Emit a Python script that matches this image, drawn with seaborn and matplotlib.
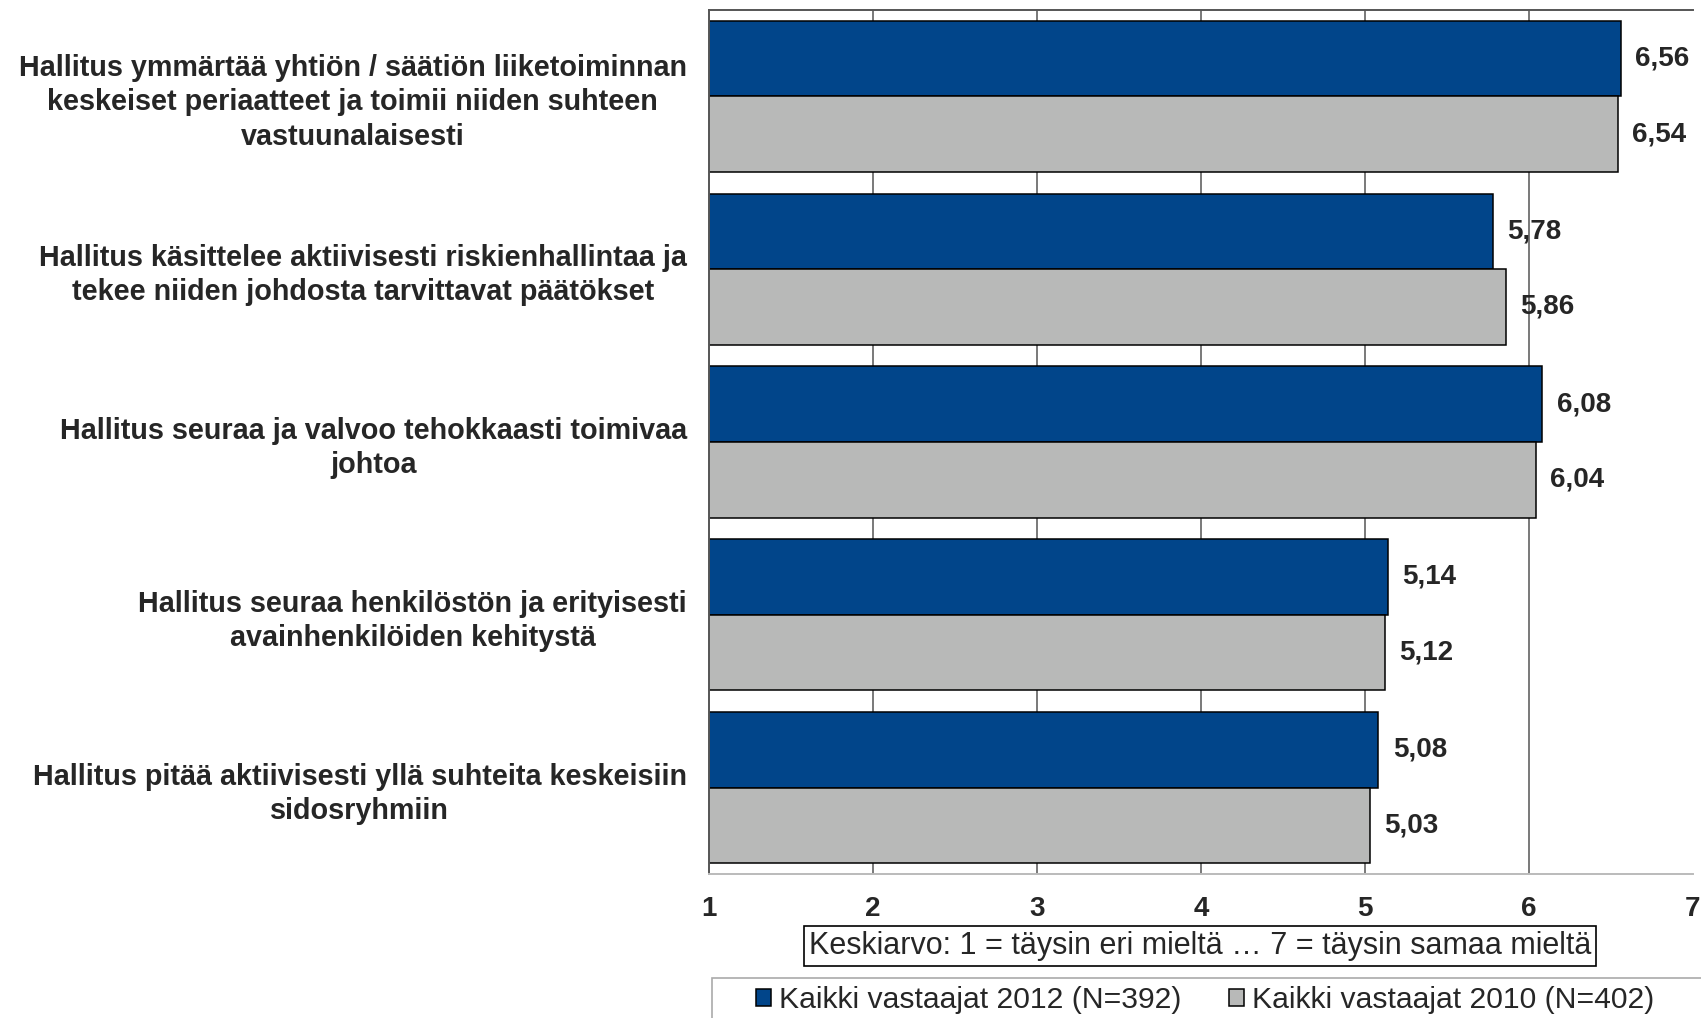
import pandas as pd
import matplotlib.pyplot as plt
import seaborn as sns
from matplotlib.patches import Rectangle

# =====================================
# DATA
# =====================================

statements = [
    "Hallitus ymmärtää yhtiön / säätiön liiketoiminnan\nkeskeiset periaatteet ja toimii niiden suhteen\nvastuunalaisesti",
    "Hallitus käsittelee aktiivisesti riskienhallintaa ja\ntekee niiden johdosta tarvittavat päätökset",
    "Hallitus seuraa ja valvoo tehokkaasti toimivaa\njohtoa",
    "Hallitus seuraa henkilöstön ja erityisesti\navainhenkilöiden kehitystä",
    "Hallitus pitää aktiivisesti yllä suhteita keskeisiin\nsidosryhmiin",
]

series_names = [
    "Kaikki vastaajat 2012 (N=392)",
    "Kaikki vastaajat 2010 (N=402)",
]

values_2012 = [6.56, 5.78, 6.08, 5.14, 5.08]
values_2010 = [6.54, 5.86, 6.04, 5.12, 5.03]

x_ticks = [1, 2, 3, 4, 5, 6, 7]

x_title = "Keskiarvo: 1 = täysin eri mieltä … 7 = täysin samaa mieltä"

colors = ["#01458A", "#B8B9B8"]

df = pd.DataFrame({
    "Väite": statements * 2,
    "Keskiarvo": values_2012 + values_2010,
    "Ryhmä": [series_names[0]] * 5 + [series_names[1]] * 5,
})

# =====================================
# FIGURE
# =====================================

sns.set_style("white")
plt.rcParams["font.family"] = ["Liberation Sans", "DejaVu Sans"]

W, H = 1701, 1018
fig = plt.figure(figsize=(W / 100, H / 100), dpi=100)

ax = fig.add_axes([
    709 / W,
    1 - 874 / H,
    (1693 - 709) / W,
    (874 - 10) / H
])

sns.barplot(
    data=df,
    x="Keskiarvo",
    y="Väite",
    hue="Ryhmä",
    orient="h",
    palette=colors,
    width=0.875,
    edgecolor="black",
    linewidth=1.1,
    saturation=1,
    ax=ax
)

ax.set_xlim(1, 7)
ax.set_ylim(len(statements) - 0.5, -0.5)

# =====================================
# GRID / SPINES
# =====================================

ax.set_axisbelow(True)
for x in x_ticks[1:-1]:
    ax.axvline(x, color="#555555", linewidth=1.1, zorder=0)

ax.spines["right"].set_visible(False)
ax.spines["top"].set_color("#555555")
ax.spines["left"].set_color("#555555")
ax.spines["bottom"].set_color("#bbbbbb")
for s in ["top", "left", "bottom"]:
    ax.spines[s].set_linewidth(1.4)

ax.set_xticks(x_ticks)
ax.set_xticklabels([str(t) for t in x_ticks], fontsize=20, fontweight="bold")
ax.tick_params(axis="x", length=0, pad=16)

ax.tick_params(axis="y", which="major", length=0, pad=16)
ax.set_yticks([-0.5], minor=True)
ax.tick_params(axis="y", which="minor", length=6.5, width=1.4, color="#555555")

for lab in ax.get_yticklabels():
    lab.set_fontsize(20.7)
    lab.set_fontweight("bold")
    lab.set_multialignment("center")
    lab.set_linespacing(1.28)

ax.set_xlabel("")
ax.set_ylabel("")

# =====================================
# VALUE LABELS
# =====================================

for cont in ax.containers:
    ax.bar_label(
        cont,
        labels=[f"{v:.2f}".replace(".", ",") for v in cont.datavalues],
        padding=10.5,
        fontsize=20,
        fontweight="bold"
    )

# =====================================
# AXIS TITLE BOX
# =====================================

fig.text(
    1200 / W,
    1 - 946 / H,
    x_title,
    ha="center",
    va="center",
    fontsize=22,
    bbox=dict(boxstyle="square,pad=0.15", facecolor="white", edgecolor="black", linewidth=1.2)
)

# =====================================
# LEGEND
# =====================================

handles, labels = ax.get_legend_handles_labels()
ax.get_legend().remove()

fig.patches.append(Rectangle(
    (712 / W, 1 - 1030 / H),
    (1710 - 712) / W,
    (1030 - 978) / H,
    transform=fig.transFigure,
    facecolor="white",
    edgecolor="#aaaaaa",
    linewidth=1.2
))

fig.legend(
    handles,
    labels,
    loc="center",
    bbox_to_anchor=(1205 / W, 1 - 1000 / H),
    ncol=2,
    frameon=False,
    fontsize=21.7,
    handlelength=0.5,
    handleheight=0.5,
    handletextpad=0.25,
    columnspacing=1.6
)

plt.savefig("out.png", dpi=100)
